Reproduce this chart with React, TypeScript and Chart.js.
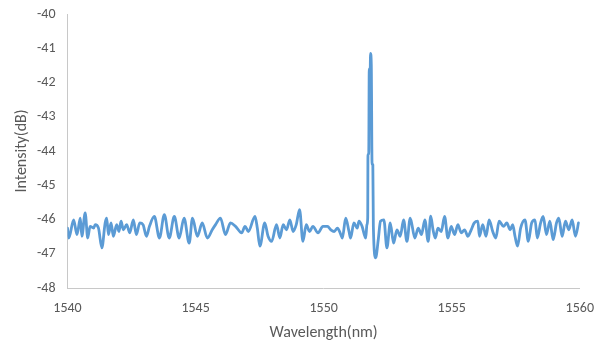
import React, { useEffect, useRef } from "react";
import { Chart, registerables } from "chart.js";

Chart.register(...registerables);

const wavelength: number[] = [
  1540.0, 1540.05, 1540.24, 1540.37, 1540.5, 1540.56, 1540.69, 1540.79, 1540.88, 1541.02,
  1541.08, 1541.21, 1541.34, 1541.47, 1541.53, 1541.6, 1541.7, 1541.79, 1541.92, 1542.01,
  1542.09, 1542.18, 1542.31, 1542.43, 1542.57, 1542.69, 1542.82, 1542.95, 1543.08, 1543.2,
  1543.39, 1543.59, 1543.78, 1543.97, 1544.17, 1544.36, 1544.55, 1544.75, 1544.88, 1545.07,
  1545.26, 1545.46, 1545.65, 1545.78, 1545.97, 1546.17, 1546.36, 1546.56, 1546.8, 1546.93,
  1547.06, 1547.32, 1547.41, 1547.51, 1547.7, 1547.83, 1547.97, 1548.16, 1548.29, 1548.42,
  1548.55, 1548.68, 1548.81, 1548.93, 1549.06, 1549.19, 1549.32, 1549.45, 1549.58, 1549.78,
  1549.97, 1550.15, 1550.28, 1550.41, 1550.54, 1550.67, 1550.73, 1550.86, 1550.99, 1551.05,
  1551.18, 1551.31, 1551.38, 1551.5, 1551.64, 1551.69, 1551.72, 1551.73, 1551.76, 1551.78,
  1551.81, 1551.83, 1551.86, 1551.89, 1551.92, 1551.94, 1552.03, 1552.13, 1552.22, 1552.35,
  1552.47, 1552.6, 1552.73, 1552.86, 1552.99, 1553.12, 1553.25, 1553.38, 1553.56, 1553.69,
  1553.82, 1553.95, 1554.08, 1554.18, 1554.27, 1554.36, 1554.46, 1554.59, 1554.72, 1554.85,
  1554.98, 1555.11, 1555.24, 1555.37, 1555.5, 1555.63, 1555.76, 1555.88, 1556.02, 1556.08,
  1556.21, 1556.34, 1556.46, 1556.6, 1556.72, 1556.85, 1557.02, 1557.15, 1557.28, 1557.38,
  1557.47, 1557.57, 1557.69, 1557.86, 1557.99, 1558.12, 1558.25, 1558.34, 1558.47, 1558.57,
  1558.7, 1558.83, 1558.96, 1559.09, 1559.18, 1559.31, 1559.44, 1559.57, 1559.7, 1559.83,
  1559.95,
];

const intensity: number[] = [
  -46.25, -46.54, -46.01, -46.44, -45.96, -46.49, -45.81, -46.54, -46.2, -46.25,
  -46.15, -46.25, -46.83, -46.1, -45.96, -46.44, -46.1, -46.49, -46.15, -46.35,
  -46.05, -46.3, -46.15, -46.39, -46.01, -46.44, -46.1, -46.15, -46.49, -46.2,
  -45.91, -46.54, -45.86, -46.54, -45.91, -46.54, -45.96, -46.69, -45.96, -46.49,
  -46.1, -46.54, -46.3, -46.15, -45.96, -46.44, -46.1, -46.2, -46.39, -46.2,
  -46.35, -45.91, -46.25, -46.78, -46.1, -46.49, -46.64, -46.15, -46.54, -46.15,
  -46.3, -46.01, -46.35, -46.15, -45.71, -46.64, -46.15, -46.35, -46.2, -46.39,
  -46.2, -46.2, -46.3, -46.35, -46.25, -46.44, -46.54, -45.96, -46.35, -46.54,
  -46.1, -46.25, -46.05, -46.2, -46.54, -46.15, -45.95, -44.1, -44.1, -41.6,
  -42.0, -41.15, -41.5, -44.4, -44.4, -46.2, -47.12, -46.6, -46.05, -46.01,
  -46.83, -46.1, -46.69, -46.3, -46.49, -46.01, -46.64, -45.96, -46.54, -46.25,
  -46.44, -46.01, -46.64, -45.9, -46.3, -46.54, -46.25, -46.35, -45.91, -46.54,
  -46.2, -46.44, -46.15, -46.39, -46.3, -46.49, -46.3, -46.1, -46.05, -46.49,
  -46.15, -46.49, -46.01, -46.35, -46.54, -46.05, -46.2, -46.1, -46.3, -46.15,
  -46.49, -46.78, -46.25, -46.01, -46.64, -46.1, -46.01, -46.54, -46.1, -45.91,
  -46.44, -46.05, -46.59, -46.1, -45.96, -46.49, -46.05, -46.3, -46.01, -46.49,
  -46.1,
];

const xMin = 1540;
const xMax = 1560;
const xStep = 5;
const yMin = -48;
const yMax = -40;
const yStep = 1;
const xTitle = "Wavelength(nm)";
const yTitle = "Intensity(dB)";

const FONT = "Carlito, Calibri, Lato, 'Open Sans', sans-serif";
const TEXT = "#595959";
const AXIS = "#c8c8c8";
const LINE = "#5B9BD5";

export default function App() {
  const ref = useRef<HTMLCanvasElement | null>(null);

  useEffect(() => {
    document.body.style.margin = "0";
    const canvas = ref.current;
    if (!canvas) return;
    const points = wavelength.map((w, i) => ({ x: w, y: intensity[i] }));
    const chart = new Chart(canvas, {
      type: "line",
      data: {
        datasets: [
          {
            data: points,
            borderColor: LINE,
            borderWidth: 2.8,
            pointRadius: 0,
            cubicInterpolationMode: "monotone",
            borderJoinStyle: "round",
            borderCapStyle: "round",
            fill: false,
          },
        ],
      },
      options: {
        animation: false,
        responsive: false,
        maintainAspectRatio: false,
        layout: { padding: { top: 14, right: 15, bottom: 0, left: 0 } },
        plugins: {
          legend: { display: false },
          tooltip: { enabled: false },
        },
        scales: {
          x: {
            type: "linear",
            min: xMin,
            max: xMax,
            grid: { display: false },
            border: { display: true, color: AXIS, width: 1 },
            ticks: {
              stepSize: xStep,
              color: TEXT,
              padding: 4,
              font: { family: FONT, size: 14 },
              callback: (v: any) => String(v),
            },
            title: {
              display: true,
              text: xTitle,
              color: TEXT,
              font: { family: FONT, size: 16 },
              padding: { top: 4, bottom: 4.5 },
            },
            afterFit: (scale: any) => {
              scale.height = 59;
            },
          },
          y: {
            type: "linear",
            min: yMin,
            max: yMax,
            grid: { display: false },
            border: { display: true, color: AXIS, width: 1 },
            ticks: {
              stepSize: yStep,
              color: TEXT,
              padding: 4,
              font: { family: FONT, size: 14 },
              callback: (v: any) => String(v),
            },
            title: {
              display: true,
              text: yTitle,
              color: TEXT,
              font: { family: FONT, size: 16 },
              padding: { top: 12.5, bottom: 4 },
            },
            afterFit: (scale: any) => {
              scale.width = 67.5;
            },
          },
        },
      },
    });
    return () => chart.destroy();
  }, []);

  return (
    <div style={{ width: 598, height: 347, background: "#fff" }}>
      <canvas ref={ref} width={598} height={347} style={{ display: "block" }} />
    </div>
  );
}
